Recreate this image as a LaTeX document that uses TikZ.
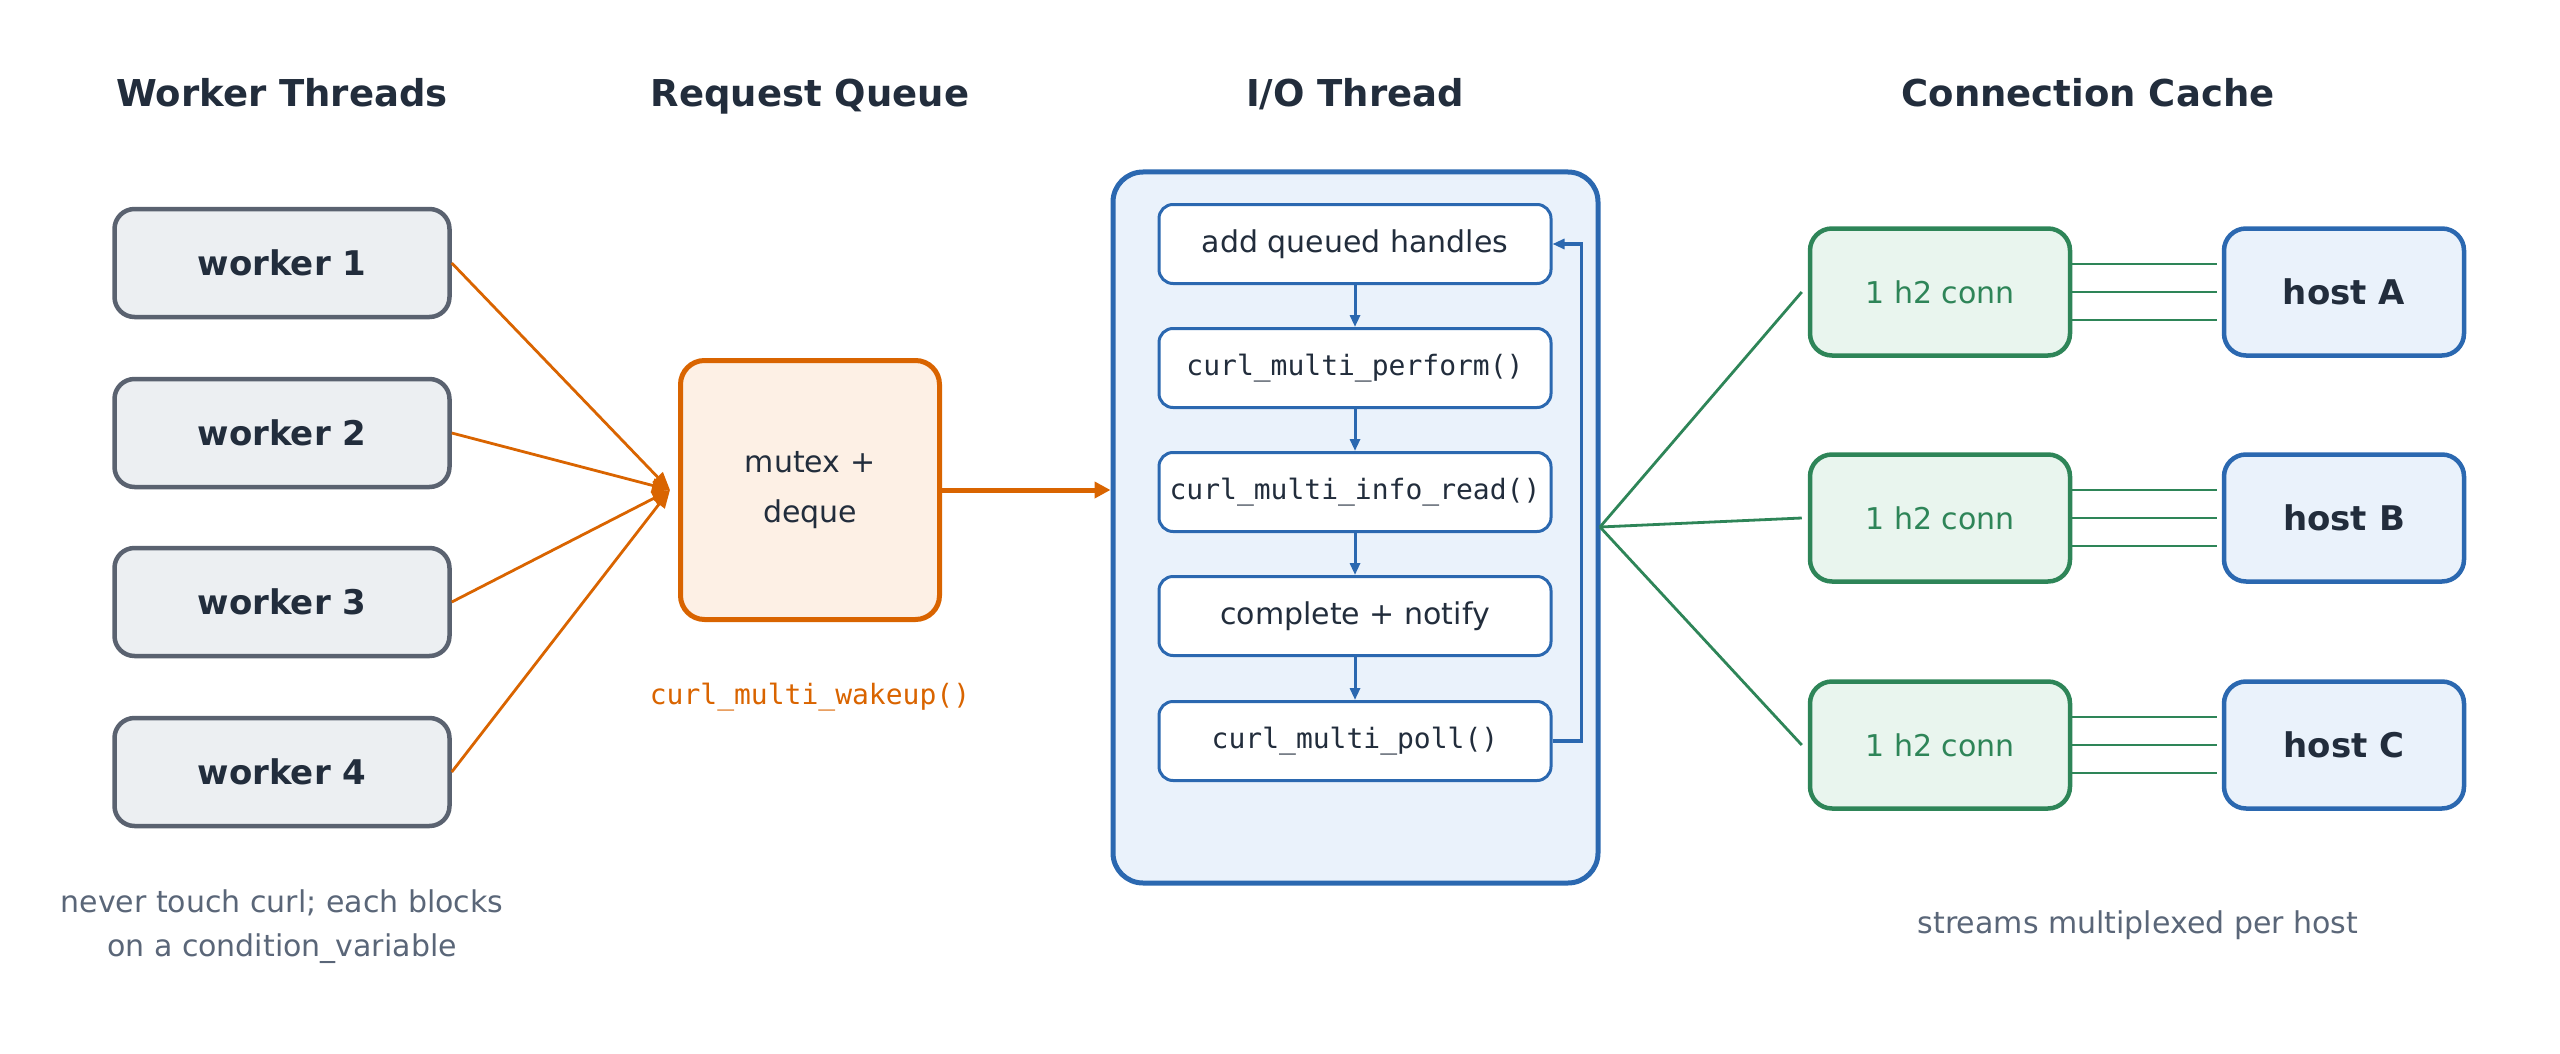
\documentclass[tikz,border=0pt]{standalone}
\usepackage{fontspec}
\setmainfont{DejaVu Sans}
\setmonofont{DejaVu Sans Mono}
\usetikzlibrary{arrows.meta}
\definecolor{ink}{HTML}{222D3C}
\definecolor{gborder}{HTML}{5A6270}
\definecolor{gfill}{HTML}{ECEFF2}
\definecolor{orng}{HTML}{D96400}
\definecolor{ofill}{HTML}{FDF0E5}
\definecolor{blu}{HTML}{2B68B0}
\definecolor{bfill}{HTML}{EAF2FB}
\definecolor{grn}{HTML}{2E8558}
\definecolor{gnfill}{HTML}{E9F5EE}
\definecolor{cap}{HTML}{5A6678}
\tikzset{
 title/.style={font=\fontsize{37}{44}\selectfont\bfseries, text=ink, anchor=base},
 worker/.style={draw=gborder, fill=gfill, line width=4.5pt, rounded corners=20pt, minimum width=335pt, minimum height=108pt, font=\fontsize{34}{40}\selectfont\bfseries, text=ink},
 step box/.style={draw=blu, fill=white, line width=3pt, rounded corners=14pt, minimum width=392pt, minimum height=79pt, font=\fontsize{30}{36}\selectfont, text=ink},
 mono/.style={font=\ttfamily\fontsize{28}{34}\selectfont},
 conn/.style={draw=grn, fill=gnfill, line width=4.5pt, rounded corners=22pt, minimum width=260pt, minimum height=127pt, font=\fontsize{30}{36}\selectfont, text=grn},
 host/.style={draw=blu, fill=bfill, line width=4.5pt, rounded corners=22pt, minimum width=240pt, minimum height=127pt, font=\fontsize{34}{40}\selectfont\bfseries, text=ink},
 caption/.style={font=\fontsize{30}{36}\selectfont, text=cap, align=center},
}
\begin{document}
\begin{tikzpicture}[x=1pt,y=-1pt]
\path[use as bounding box] (0,0) rectangle (2560,1054);
\node[title] at (282,107) {Worker Threads};
\node[title] at (810,107) {Request Queue};
\node[title] at (1355,107) {I/O Thread};
\node[title] at (2088,107) {Connection Cache};

\node[worker] (w1) at (282,263) {worker 1};
\node[worker] (w2) at (282,433) {worker 2};
\node[worker] (w3) at (282,602) {worker 3};
\node[worker] (w4) at (282,772) {worker 4};

\node[draw=orng, fill=ofill, line width=5pt, rounded corners=24pt, minimum width=259pt, minimum height=259pt, font=\fontsize{30}{50}\selectfont, text=ink, align=center] (q) at (810,490) {mutex +\\deque};
\coordinate (qin) at (q.west);
\foreach \w in {w1,w2,w3,w4}
  \draw[orng, line width=2.8pt, -{Triangle[length=18pt,width=14pt]}] (\w.east) -- ([xshift=-8pt]qin);
\node[mono, text=orng] (wk) at (810,697) {curl\_multi\_wakeup()};

\node[draw=blu, fill=bfill, line width=5pt, rounded corners=30pt, minimum width=485pt, minimum height=711pt] (io) at (1355.5,527.5) {};
\draw[orng, line width=5pt, -{Triangle[length=16pt,width=16pt]}] (q.east) -- (io.west |- q.east);

\node[step box] (s1) at (1355,244) {add queued handles};
\node[step box, mono] (s2) at (1355,368) {curl\_multi\_perform()};
\node[step box, mono] (s3) at (1355,492) {curl\_multi\_info\_read()};
\node[step box] (s4) at (1355,616) {complete + notify};
\node[step box, mono] (s5) at (1355,741) {curl\_multi\_poll()};
\foreach \a/\b in {s1/s2,s2/s3,s3/s4,s4/s5}
  \draw[blu, line width=3pt, -{Triangle[length=12pt,width=10pt]}] (\a.south) -- (\b.north);
\draw[blu, line width=3.5pt, -{Triangle[length=12pt,width=10pt]}] (s5.east) -- ++(29,0) |- (s1.east);

\coordinate (fan) at (1600,527);
\node[conn] (c1) at (1940,292) {1 h2 conn};
\node[conn] (c2) at (1940,518) {1 h2 conn};
\node[conn] (c3) at (1940,745) {1 h2 conn};
\node[host] (h1) at (2344,292) {host A};
\node[host] (h2) at (2344,518) {host B};
\node[host] (h3) at (2344,745) {host C};
\foreach \c/\h in {c1/h1,c2/h2,c3/h3}{
  \draw[grn, line width=2.8pt] (fan) -- ([xshift=-6pt]\c.west);
  \foreach \d in {-28,0,28}
    \draw[grn, line width=2.8pt] ([yshift=\d pt]\c.east) -- ([yshift=\d pt, xshift=-5pt]\h.west);
}

\node[caption] (n1) at (282,927) {never touch curl; each blocks\\[8pt]on a condition\_variable};
\node[caption] (n2) at (2138,925) {streams multiplexed per host};
\end{tikzpicture}
\end{document}
